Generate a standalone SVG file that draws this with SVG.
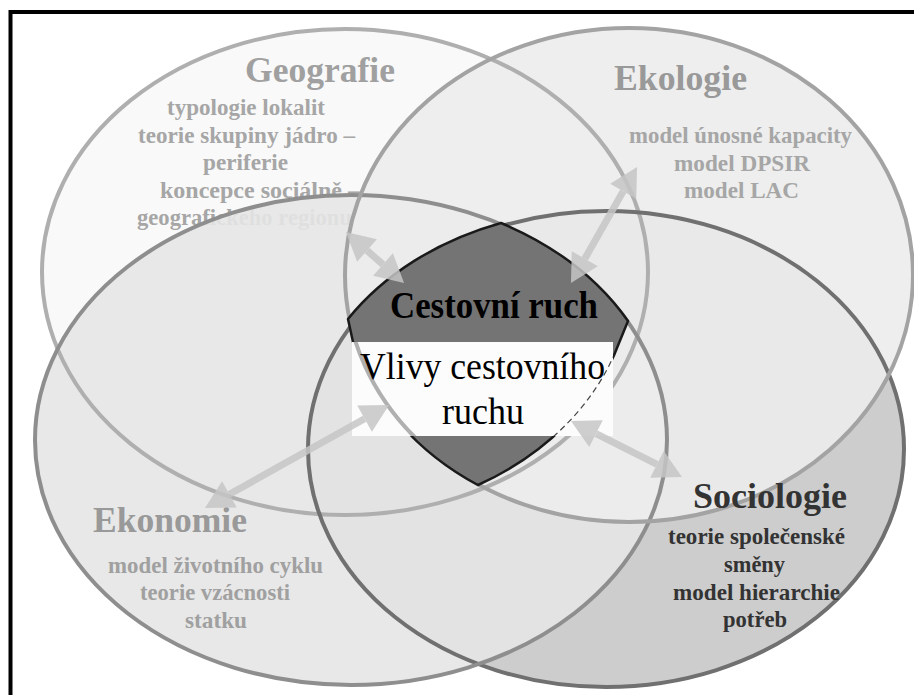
<svg xmlns="http://www.w3.org/2000/svg" width="914" height="695" viewBox="0 0 914 695">
<defs>
<style>
.title{font-family:"Liberation Serif","Times New Roman",serif;font-weight:bold;font-size:36px}
.sub{font-family:"Liberation Serif","Times New Roman",serif;font-weight:bold;font-size:23px}
.lt{fill:#a6a6a6}
.dk{fill:#333333}
.ring{fill:none;stroke-width:4}
.conn{fill:none;stroke:#c6c6c6;stroke-width:7;marker-start:url(#head);marker-end:url(#head)}
</style>
<marker id="head" markerUnits="userSpaceOnUse" markerWidth="28" markerHeight="30" refX="0" refY="15" orient="auto-start-reverse" overflow="visible">
<path d="M0,0 L28,15 L0,30 Z" fill="#c6c6c6"/>
</marker>
<clipPath id="boxclip"><rect x="352" y="342" width="261" height="94"/></clipPath>
</defs>
<rect width="914" height="695" fill="#ffffff"/>
<rect id="frame" x="10.5" y="12" width="950" height="750" fill="none" stroke="#000" stroke-width="4"/>

<g id="geografie">
<ellipse cx="345" cy="272" rx="303" ry="243" fill="#f9f9f9"/>
<text class="title" x="245" y="82" textLength="150" lengthAdjust="spacingAndGlyphs" fill="#a0a0a0">Geografie</text>
<g class="sub lt">
<text x="167" y="115" textLength="158" lengthAdjust="spacingAndGlyphs">typologie lokalit</text>
<text x="138" y="143" textLength="217" lengthAdjust="spacingAndGlyphs">teorie skupiny jádro –</text>
<text x="203" y="170" textLength="85" lengthAdjust="spacingAndGlyphs">periferie</text>
<text x="160" y="198" textLength="200" lengthAdjust="spacingAndGlyphs">koncepce sociálně –</text>
<text x="137" y="225" textLength="215" lengthAdjust="spacingAndGlyphs">geografického regionu</text>
</g>
</g>

<g id="sociologie">
<ellipse cx="606" cy="449" rx="298" ry="238" fill="#cdcdcd"/>
</g>

<g id="ekonomie">
<ellipse cx="351" cy="440" rx="316" ry="245" fill="#e5e5e5" fill-opacity="0.9"/>
<text class="title" x="93" y="532" textLength="154" lengthAdjust="spacingAndGlyphs" fill="#999999">Ekonomie</text>
<g class="sub" fill="#a0a0a0">
<text x="108" y="573" textLength="215" lengthAdjust="spacingAndGlyphs">model životního cyklu</text>
<text x="140" y="600" textLength="150" lengthAdjust="spacingAndGlyphs">teorie vzácnosti</text>
<text x="185" y="628" textLength="62" lengthAdjust="spacingAndGlyphs">statku</text>
</g>
</g>

<g id="ekologie">
<ellipse cx="629" cy="275" rx="284" ry="247" fill="#ececec" fill-opacity="0.9"/>
<text class="title" x="614" y="90" textLength="133" lengthAdjust="spacingAndGlyphs" fill="#999999">Ekologie</text>
<g class="sub lt">
<text x="629" y="143" textLength="223" lengthAdjust="spacingAndGlyphs">model únosné kapacity</text>
<text x="674" y="171" textLength="136" lengthAdjust="spacingAndGlyphs">model DPSIR</text>
<text x="684" y="198" textLength="115" lengthAdjust="spacingAndGlyphs">model LAC</text>
</g>
</g>

<g id="outlines">
<ellipse class="ring" cx="345" cy="272" rx="303" ry="243" stroke="#afafaf"/>
<ellipse class="ring" cx="606" cy="449" rx="298" ry="238" stroke="#707070"/>
<ellipse class="ring" cx="351" cy="440" rx="316" ry="245" stroke="#8e8e8e"/>
<ellipse class="ring" cx="629" cy="275" rx="284" ry="247" stroke="#a3a3a3"/>
</g>

<g id="sociologie-label">
<text class="title dk" x="693" y="508" textLength="154" lengthAdjust="spacingAndGlyphs">Sociologie</text>
<g class="sub dk">
<text x="668" y="544" textLength="177" lengthAdjust="spacingAndGlyphs">teorie společenské</text>
<text x="724" y="572" textLength="61" lengthAdjust="spacingAndGlyphs">směny</text>
<text x="673" y="600" textLength="167" lengthAdjust="spacingAndGlyphs">model hierarchie</text>
<text x="723" y="627" textLength="64" lengthAdjust="spacingAndGlyphs">potřeb</text>
</g>
</g>

<g id="cestovni-ruch">
<path d="M348,319 A300 236 0 0 1 501,223 A316 245 0 0 1 628,321 L619,343 A300 243 0 0 1 478,485 A284 247 0 0 1 353,342 Z" fill="#747474" stroke="#1a1a1a" stroke-width="2.5" stroke-linejoin="round"/>
<text x="390" y="318" font-family="'Liberation Serif','Times New Roman',serif" font-weight="bold" font-size="37" textLength="208" lengthAdjust="spacingAndGlyphs" fill="#000">Cestovní ruch</text>
<rect x="352" y="342" width="261" height="94" fill="#fcfcfc"/>
<g clip-path="url(#boxclip)">
<ellipse class="ring" cx="629" cy="275" rx="284" ry="247" stroke="#b0b0b0" stroke-width="3"/>
<path d="M619,343 A300 243 0 0 1 478,485" fill="none" stroke="#444" stroke-width="1.2" stroke-dasharray="6 4"/>
</g>
<g font-family="'Liberation Serif','Times New Roman',serif" font-size="37" fill="#000">
<text x="360" y="379" textLength="245" lengthAdjust="spacingAndGlyphs">Vlivy cestovního</text>
<text x="442" y="424" textLength="82" lengthAdjust="spacingAndGlyphs">ruchu</text>
</g>
</g>

<g id="connectors" opacity="0.85">
<path class="conn" d="M367,250.5 L383,264.5"/>
<path class="conn" d="M623.2,191.3 L584.8,258.7"/>
<path class="conn" d="M229.4,494.3 L364.6,418.7"/>
<path class="conn" d="M596,433.6 L657,464.4"/>
</g>
</svg>
